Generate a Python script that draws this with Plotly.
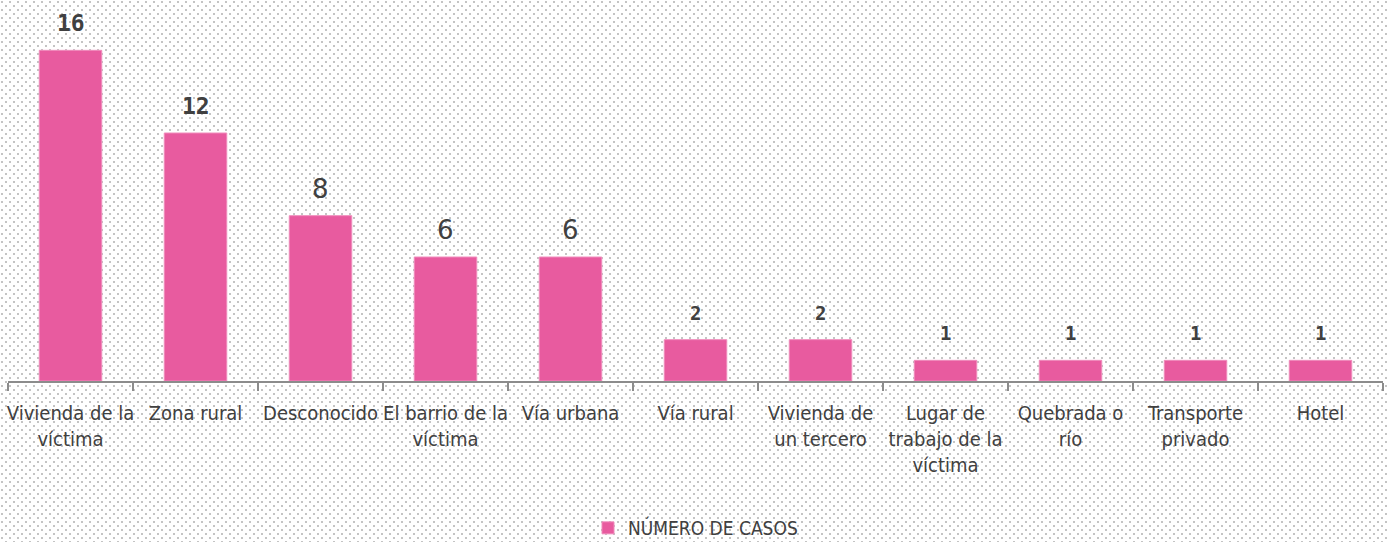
import base64
import plotly.graph_objects as go

categories = ["Vivienda de la<br>víctima", "Zona rural", "Desconocido", "El barrio de la<br>víctima",
              "Vía urbana", "Vía rural", "Vivienda de<br>un tercero", "Lugar de<br>trabajo de la<br>víctima",
              "Quebrada o<br>río", "Transporte<br>privado", "Hotel"]
values = [16, 12, 8, 6, 6, 2, 2, 1, 1, 1, 1]
label_sizes = [23, 23, 26, 26, 26, 19, 19, 19, 19, 19, 19]
label_fonts = ["DejaVu Sans Mono", "DejaVu Sans Mono", "DejaVu Sans", "DejaVu Sans", "DejaVu Sans",
               "DejaVu Sans Mono", "DejaVu Sans Mono", "DejaVu Sans Mono", "DejaVu Sans Mono",
               "DejaVu Sans Mono", "DejaVu Sans Mono"]
label_weights = ["bold", "bold", "normal", "normal", "normal", "bold", "bold", "bold", "bold", "bold", "bold"]
series_name = "NÚMERO DE CASOS"

W, H = 1388, 542
ML, MR, MT, MB = 8, 5, 9, 161

svg = (f'<svg xmlns="http://www.w3.org/2000/svg" width="{W}" height="{H}" viewBox="0 0 {W} {H}">'
       '<defs><pattern id="p" width="8" height="8" patternUnits="userSpaceOnUse">'
       '<rect x="1" y="1" width="2" height="2" fill="#c4c4c4"/>'
       '<rect x="5" y="5" width="2" height="2" fill="#c4c4c4"/></pattern></defs>'
       '<rect width="100%" height="100%" fill="#ffffff"/>'
       '<rect width="100%" height="100%" fill="url(#p)"/></svg>')
src = "data:image/svg+xml;base64," + base64.b64encode(svg.encode()).decode()

pw = W - ML - MR
ph = H - MT - MB

cond = "DejaVu Sans Condensed, Roboto, sans-serif"

fig = go.Figure()
fig.add_trace(go.Bar(
    x=categories, y=values, name=series_name,
    marker=dict(color="#E85B9F", line=dict(color="#F08CBC", width=1)),
    showlegend=True,
))

for c, v, s, f, w in zip(categories, values, label_sizes, label_fonts, label_weights):
    fig.add_annotation(x=c, y=v, text=str(v), showarrow=False, yanchor="middle", yshift=27,
                       font=dict(family=f, size=s, color="#404040", weight=w))

fig.update_layout(
    width=W, height=H,
    margin=dict(l=ML, r=MR, t=MT, b=MB, autoexpand=False),
    paper_bgcolor="#ffffff",
    plot_bgcolor="rgba(0,0,0,0)",
    bargap=0.5,
    images=[dict(source=src, xref="paper", yref="paper", x=-ML / pw, y=1 + MT / ph,
                 sizex=W / pw, sizey=H / ph, sizing="stretch", xanchor="left", yanchor="top",
                 layer="below")],
    xaxis=dict(showline=True, linecolor="#8c8c8c", linewidth=1.5, ticks="outside",
               tickson="boundaries", ticklen=8, tickcolor="#8c8c8c", tickwidth=1.5,
               tickfont=dict(family=cond, size=20, color="#404040"), ticklabelstandoff=13,
               tickangle=0, showgrid=False, automargin=False),
    yaxis=dict(range=[0, 18], visible=False, showgrid=False, automargin=False),
    legend=dict(orientation="h", x=0.5, xanchor="center", y=(381 - 528) / ph, yanchor="middle",
                font=dict(family=cond, size=19, color="#404040"),
                bgcolor="rgba(0,0,0,0)"),
)

fig.write_html("out.html", config={"displayModeBar": False},
               post_script="document.body.style.margin='0';document.body.style.padding='0';")
